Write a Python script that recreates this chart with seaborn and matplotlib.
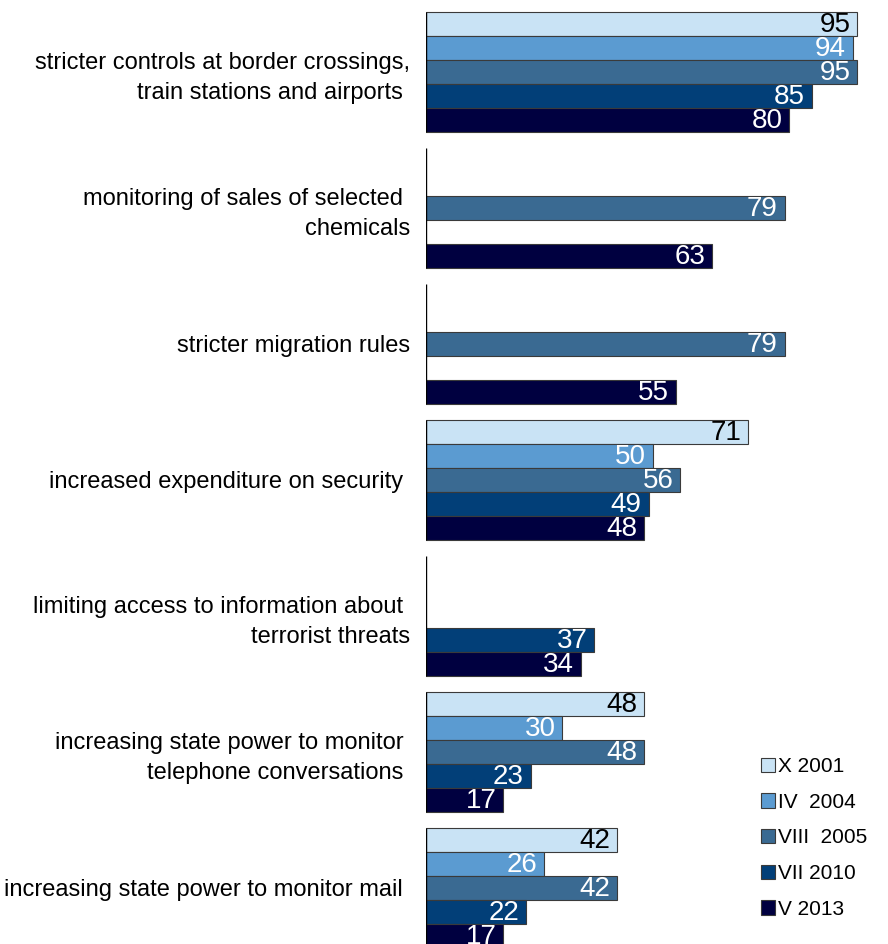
import numpy as np
import pandas as pd
import matplotlib
matplotlib.use("Agg")
import matplotlib.pyplot as plt
import seaborn as sns
from matplotlib.patches import Patch

categories = [
    "stricter controls at border crossings,\ntrain stations and airports ",
    "monitoring of sales of selected \nchemicals",
    "stricter migration rules",
    "increased expenditure on security ",
    "limiting access to information about \nterrorist threats",
    "increasing state power to monitor \ntelephone conversations ",
    "increasing state power to monitor mail ",
]
series = ["X 2001", "IV  2004", "VIII  2005", "VII 2010", "V 2013"]
x_2001 = [95, np.nan, np.nan, 71, np.nan, 48, 42]
iv_2004 = [94, np.nan, np.nan, 50, np.nan, 30, 26]
viii_2005 = [95, 79, 79, 56, np.nan, 48, 42]
vii_2010 = [85, np.nan, np.nan, 49, 37, 23, 22]
v_2013 = [80, 63, 55, 48, 34, 17, 17]

colors = ["#C9E3F5", "#5B9BD1", "#3A6A92", "#023F78", "#000040"]
label_colors = ["black", "white", "white", "white", "white"]

rows = []
for s, vals in zip(series, [x_2001, iv_2004, viii_2005, vii_2010, v_2013]):
    for c, v in zip(categories, vals):
        rows.append({"category": c, "series": s, "value": v})
df = pd.DataFrame(rows)

sns.set_theme(style="white")
plt.rcParams["font.family"] = ["Liberation Sans", "DejaVu Sans"]
plt.rcParams["text.color"] = "black"
plt.rcParams["ytick.color"] = "black"
plt.rcParams["ytick.labelcolor"] = "black"

fig = plt.figure(figsize=(8.88, 9.44), dpi=100)
ax = fig.add_axes([0.4802, 0.0, 0.5106, 1.0])

width = 0.882
sns.barplot(data=df, y="category", x="value", hue="series", order=categories,
            hue_order=series, palette=colors, orient="h", width=width,
            edgecolor="#3a3a3a", linewidth=0.8, ax=ax, legend=False,
            errorbar=None, saturation=1)

for cont, lc in zip(ax.containers, label_colors):
    for p in cont.patches:
        w = p.get_width()
        if np.isnan(w) or w == 0:
            continue
        ax.text(w - 1.5, p.get_y() + p.get_height() / 2 + 0.01, f"{w:.0f}",
                ha="right", va="center", fontsize=20, color=lc)

ax.set_xlim(0, 100)
ax.set_ylim(6.412, -0.529)
for sp in ax.spines.values():
    sp.set_visible(False)
for i in range(len(categories)):
    ax.plot([0, 0], [i - width / 2, i + width / 2], color="black", lw=1.0,
            solid_capstyle="butt", zorder=5)
ax.set_xticks([])
ax.set_xlabel("")
ax.set_ylabel("")
ax.tick_params(axis="y", length=0, pad=12, labelsize=17, labelcolor="black")
for t in ax.get_yticklabels():
    t.set_linespacing(1.45)
    t.set_color("black")

handles = [Patch(facecolor=c, edgecolor="#3a3a3a", linewidth=0.8) for c in colors]
fig.legend(handles, series, loc="upper left", bbox_to_anchor=(0.857, 0.198),
           frameon=False, fontsize=15, handlelength=0.68, handleheight=0.68,
           handletextpad=0.12, labelspacing=0.8, borderpad=0, borderaxespad=0)

fig.savefig("out.png", dpi=100)
